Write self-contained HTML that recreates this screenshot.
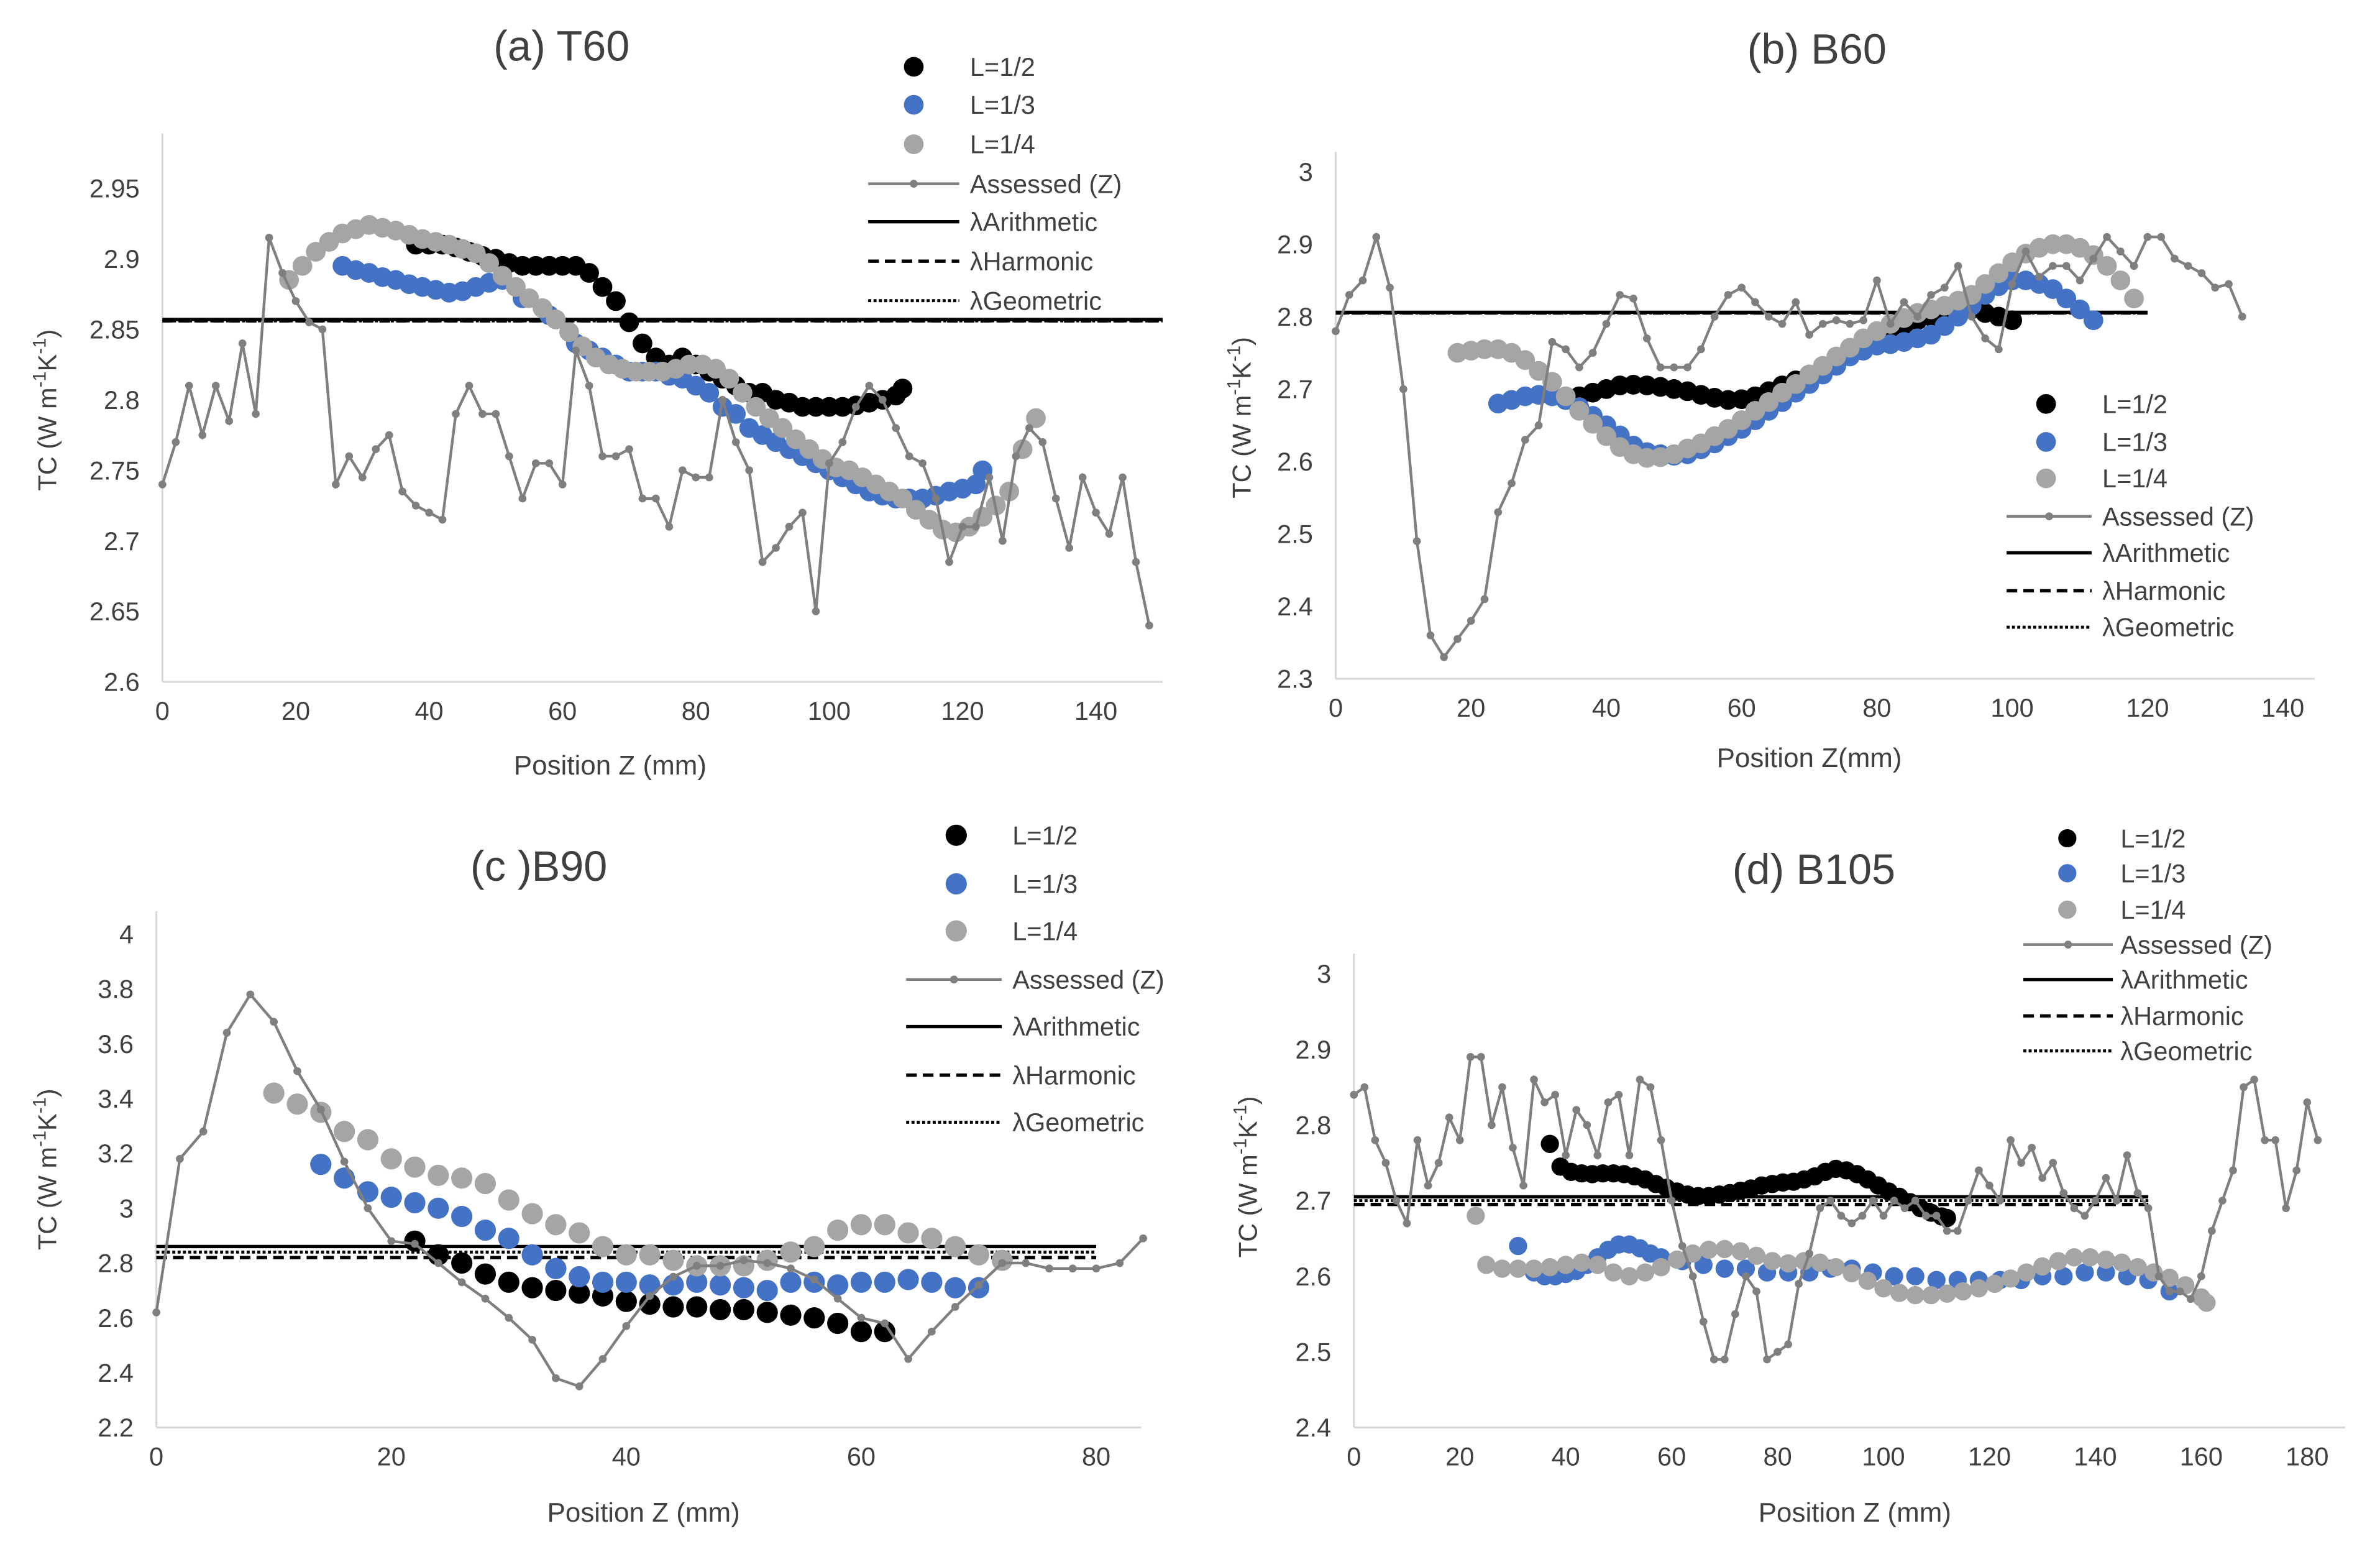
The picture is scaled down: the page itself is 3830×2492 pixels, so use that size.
<!DOCTYPE html>
<html><head><meta charset="utf-8"><style>
html,body{margin:0;padding:0;background:#fff;}
svg{display:block;font-family:"Liberation Sans",sans-serif;}
</style></head><body>
<svg id="chart" width="3830" height="2492" viewBox="0 0 1568 1020" preserveAspectRatio="none" xmlns="http://www.w3.org/2000/svg"></svg>
<script>
// ---------- Panel (a) T60 ----------
const aAssessedX=[0,2,4,6,8,10,12,14,16,18,20,22,24,26,28,30,32,34,36,38,40,42,44,46,48,50,52,54,56,58,60,62,64,66,68,70,72,74,76,78,80,82,84,86,88,90,92,94,96,98,100,102,104,106,108,110,112,114,116,118,120,122,124,126,128,130,132,134,136,138,140,142,144,146,148];
const aAssessedY=[2.74,2.77,2.81,2.775,2.81,2.785,2.84,2.79,2.915,2.89,2.87,2.855,2.85,2.74,2.76,2.745,2.765,2.775,2.735,2.725,2.72,2.715,2.79,2.81,2.79,2.79,2.76,2.73,2.755,2.755,2.74,2.835,2.81,2.76,2.76,2.765,2.73,2.73,2.71,2.75,2.745,2.745,2.8,2.77,2.75,2.685,2.695,2.71,2.72,2.65,2.755,2.77,2.795,2.81,2.8,2.78,2.76,2.755,2.73,2.685,2.71,2.71,2.745,2.7,2.76,2.78,2.77,2.73,2.695,2.745,2.72,2.705,2.745,2.685,2.64];
const aHalfX=[38,40,42,44,46,48,50,52,54,56,58,60,62,64,66,68,70,72,74,76,78,80,82,84,86,88,90,92,94,96,98,100,102,104,106,108,110,111];
const aHalfY=[2.91,2.91,2.91,2.908,2.905,2.902,2.9,2.897,2.895,2.895,2.895,2.895,2.895,2.89,2.88,2.87,2.855,2.84,2.83,2.825,2.83,2.825,2.82,2.815,2.81,2.805,2.805,2.8,2.798,2.795,2.795,2.795,2.795,2.796,2.798,2.8,2.803,2.808];
const aThirdX=[27,29,31,33,35,37,39,41,43,45,47,49,51,54,58,62,64,66,68,70,72,74,76,78,80,82,84,86,88,90,92,94,96,98,100,102,104,106,108,110,112,114,116,118,120,122,123];
const aThirdY=[2.895,2.892,2.89,2.887,2.885,2.882,2.88,2.878,2.876,2.877,2.88,2.883,2.885,2.872,2.86,2.84,2.835,2.83,2.825,2.82,2.82,2.82,2.817,2.815,2.81,2.805,2.795,2.79,2.78,2.775,2.77,2.765,2.76,2.755,2.75,2.745,2.74,2.735,2.732,2.73,2.73,2.73,2.732,2.735,2.737,2.74,2.75];
const aQuarterX=[19,21,23,25,27,29,31,33,35,37,39,41,43,45,47,49,51,53,55,57,59,61,63,65,67,69,71,73,75,77,79,81,83,85,87,89,91,93,95,97,99,101,103,105,107,109,111,113,115,117,119,121,123,125,127,129,131];
const aQuarterY=[2.885,2.895,2.905,2.912,2.918,2.921,2.924,2.922,2.92,2.917,2.914,2.912,2.91,2.907,2.904,2.897,2.888,2.88,2.872,2.865,2.857,2.848,2.838,2.83,2.825,2.822,2.82,2.82,2.82,2.822,2.825,2.825,2.822,2.815,2.805,2.795,2.787,2.78,2.772,2.765,2.758,2.752,2.75,2.745,2.74,2.735,2.73,2.722,2.715,2.708,2.706,2.71,2.717,2.725,2.735,2.765,2.787];
const aLambda=[2.857,2.856,2.856];

// ---------- Panel (b) B60 ----------
const bAssessedX=[0,2,4,6,8,10,12,14,16,18,20,22,24,26,28,30,32,34,36,38,40,42,44,46,48,50,52,54,56,58,60,62,64,66,68,70,72,74,76,78,80,82,84,86,88,90,92,94,96,98,100,102,104,106,108,110,112,114,116,118,120,122,124,126,128,130,132,134];
const bAssessedY=[2.78,2.83,2.85,2.91,2.84,2.7,2.49,2.36,2.33,2.355,2.38,2.41,2.53,2.57,2.63,2.65,2.765,2.755,2.73,2.75,2.79,2.83,2.825,2.77,2.73,2.73,2.73,2.755,2.8,2.83,2.84,2.82,2.8,2.79,2.82,2.775,2.79,2.795,2.79,2.795,2.85,2.79,2.82,2.8,2.83,2.84,2.87,2.8,2.77,2.755,2.845,2.89,2.855,2.87,2.87,2.85,2.88,2.91,2.89,2.87,2.91,2.91,2.88,2.87,2.86,2.84,2.845,2.8,2.65].slice(0,68);
const bHalfX=[34,36,38,40,42,44,46,48,50,52,54,56,58,60,62,64,66,68,70,72,74,76,78,80,82,84,86,88,90,92,94,96,98,100];
const bHalfY=[2.685,2.69,2.695,2.7,2.705,2.706,2.705,2.703,2.7,2.697,2.692,2.688,2.685,2.686,2.69,2.697,2.705,2.712,2.72,2.73,2.74,2.75,2.76,2.77,2.78,2.788,2.795,2.8,2.805,2.808,2.81,2.805,2.8,2.795];
const bThirdX=[24,26,28,30,32,34,36,38,40,42,44,46,48,50,52,54,56,58,60,62,64,66,68,70,72,74,76,78,80,82,84,86,88,90,92,94,96,98,100,102,104,106,108,110,112];
const bThirdY=[2.68,2.685,2.69,2.692,2.69,2.685,2.675,2.663,2.65,2.636,2.622,2.613,2.61,2.608,2.61,2.617,2.625,2.635,2.645,2.657,2.67,2.682,2.695,2.707,2.72,2.732,2.745,2.753,2.76,2.762,2.765,2.77,2.775,2.787,2.8,2.815,2.83,2.842,2.85,2.85,2.845,2.838,2.825,2.81,2.795];
const bQuarterX=[18,20,22,24,26,28,30,32,34,36,38,40,42,44,46,48,50,52,54,56,58,60,62,64,66,68,70,72,74,76,78,80,82,84,86,88,90,92,94,96,98,100,102,104,106,108,110,112,114,116,118];
const bQuarterY=[2.75,2.753,2.755,2.755,2.75,2.74,2.725,2.71,2.69,2.67,2.652,2.635,2.62,2.61,2.605,2.606,2.61,2.618,2.625,2.635,2.645,2.657,2.67,2.682,2.695,2.707,2.72,2.732,2.745,2.757,2.77,2.78,2.79,2.798,2.805,2.81,2.815,2.822,2.83,2.845,2.86,2.875,2.887,2.895,2.9,2.9,2.895,2.885,2.87,2.85,2.825,2.8].slice(0,51);
const bLambda=[2.806,2.805,2.805];

// ---------- Panel (c) B90 ----------
const cAssessedX=[0,2,4,6,8,10,12,14,16,18,20,22,24,26,28,30,32,34,36,38,40,42,44,46,48,50,52,54,56,58,60,62,64,66,68,70,72,74,76,78,80,82,84];
const cAssessedY=[2.62,3.18,3.28,3.64,3.78,3.68,3.5,3.36,3.17,3.0,2.88,2.87,2.8,2.73,2.67,2.6,2.52,2.38,2.35,2.45,2.57,2.68,2.75,2.79,2.79,2.81,2.8,2.78,2.74,2.67,2.6,2.58,2.45,2.55,2.64,2.72,2.8,2.8,2.78,2.78,2.78,2.8,2.89];
const cHalfX=[22,24,26,28,30,32,34,36,38,40,42,44,46,48,50,52,54,56,58,60,62];
const cHalfY=[2.88,2.83,2.8,2.76,2.73,2.71,2.7,2.69,2.68,2.66,2.65,2.64,2.64,2.63,2.63,2.62,2.61,2.6,2.58,2.55,2.55];
const cThirdX=[14,16,18,20,22,24,26,28,30,32,34,36,38,40,42,44,46,48,50,52,54,56,58,60,62,64,66,68,70];
const cThirdY=[3.16,3.11,3.06,3.04,3.02,3.0,2.97,2.92,2.89,2.83,2.78,2.75,2.73,2.73,2.72,2.72,2.73,2.72,2.71,2.7,2.73,2.73,2.72,2.73,2.73,2.74,2.73,2.71,2.71];
const cQuarterX=[10,12,14,16,18,20,22,24,26,28,30,32,34,36,38,40,42,44,46,48,50,52,54,56,58,60,62,64,66,68,70,72];
const cQuarterY=[3.42,3.38,3.35,3.28,3.25,3.18,3.15,3.12,3.11,3.09,3.03,2.98,2.94,2.91,2.86,2.83,2.83,2.81,2.79,2.79,2.79,2.81,2.84,2.86,2.92,2.94,2.94,2.91,2.89,2.86,2.83,2.81];
const cLambda=[2.86,2.82,2.84];

// ---------- Panel (d) B105 ----------
const dAssessedX=[0,2,4,6,8,10,12,14,16,18,20,22,24,26,28,30,32,34,36,38,40,42,44,46,48,50,52,54,56,58,60,62,64,66,68,70,72,74,76,78,80,82,84,86,88,90,92,94,96,98,100,102,104,106,108,110,112,114,116,118,120,122,124,126,128,130,132,134,136,138,140,142,144,146,148,150,152,154,156,158,160,162,164,166,168,170,172,174,176,178,180,182];
const dAssessedY=[2.84,2.85,2.78,2.75,2.7,2.67,2.78,2.72,2.75,2.81,2.78,2.89,2.89,2.8,2.85,2.77,2.72,2.86,2.83,2.84,2.76,2.82,2.8,2.76,2.83,2.84,2.76,2.86,2.85,2.78,2.7,2.64,2.6,2.54,2.49,2.49,2.55,2.6,2.58,2.49,2.5,2.51,2.59,2.63,2.69,2.7,2.68,2.67,2.68,2.7,2.68,2.7,2.69,2.7,2.68,2.68,2.66,2.66,2.7,2.74,2.72,2.7,2.78,2.75,2.77,2.73,2.75,2.71,2.69,2.68,2.7,2.73,2.7,2.76,2.71,2.69,2.6,2.58,2.58,2.57,2.6,2.66,2.7,2.74,2.85,2.86,2.78,2.78,2.69,2.74,2.83,2.78];
const dHalfX=[37,39,41,43,45,47,49,51,53,55,57,59,61,63,65,67,69,71,73,75,77,79,81,83,85,87,89,91,93,95,97,99,101,103,105,107,109,111,112];
const dHalfY=[2.775,2.745,2.738,2.736,2.735,2.736,2.736,2.735,2.732,2.728,2.722,2.717,2.712,2.708,2.706,2.706,2.708,2.71,2.713,2.716,2.72,2.722,2.724,2.725,2.728,2.732,2.738,2.742,2.74,2.735,2.728,2.72,2.712,2.705,2.698,2.69,2.684,2.679,2.677];
const dThirdX=[31,34,36,38,40,42,44,46,48,50,52,54,56,58,62,66,70,74,78,82,86,90,94,98,102,106,110,114,118,122,126,130,134,138,142,146,150,154];
const dThirdY=[2.64,2.605,2.6,2.6,2.603,2.607,2.615,2.625,2.635,2.642,2.642,2.637,2.63,2.625,2.62,2.615,2.61,2.61,2.605,2.605,2.605,2.61,2.61,2.605,2.6,2.6,2.595,2.595,2.595,2.595,2.595,2.6,2.6,2.605,2.605,2.6,2.595,2.58];
const dQuarterX=[23,25,28,31,34,37,40,43,46,49,52,55,58,61,64,67,70,73,76,79,82,85,88,91,94,97,100,103,106,109,112,115,118,121,124,127,130,133,136,139,142,145,148,151,154,157,160,161];
const dQuarterY=[2.68,2.615,2.61,2.61,2.61,2.612,2.615,2.618,2.615,2.605,2.6,2.605,2.612,2.622,2.63,2.635,2.636,2.633,2.627,2.62,2.617,2.62,2.618,2.612,2.604,2.594,2.584,2.578,2.575,2.575,2.577,2.58,2.584,2.59,2.597,2.605,2.613,2.62,2.625,2.625,2.622,2.618,2.612,2.605,2.598,2.588,2.572,2.565];
const dLambda=[2.705,2.695,2.7];

// ---------- drawing ----------
const NS="http://www.w3.org/2000/svg";
const svg=document.getElementById('chart');
function mk(tag,attrs,parent,text){const e=document.createElementNS(NS,tag);for(const k in attrs)e.setAttribute(k,attrs[k]);if(text!==undefined)e.textContent=text;(parent||svg).appendChild(e);return e;}

const panels=[
 {id:'a',title:'(a) T60',tx:370,ty:40,x0:107,x1:766,xmin:0,xmax:150,xstep:20,xtickMax:140,y0:449,yTop:88,ymin:2.6,ymax:2.95,ystepPx:46.43,ystep:0.05,ydec:2,ytickMax:2.95,
  ass:[aAssessedX,aAssessedY],half:[aHalfX,aHalfY],third:[aThirdX,aThirdY],quarter:[aQuarterX,aQuarterY],lam:aLambda,lamX:[0,150],r:6.5,
  xtitle:'Position Z (mm)',xtx:402,xty:510,ytx:37,yty:270,
  leg:{dotX:602,lx0:572,lx1:632,tx:639,ys:[44,69,95,121,146,172,198]}},
 {id:'b',title:'(b) B60',tx:1197,ty:42,x0:880,x1:1525,xmin:0,xmax:145,xstep:20,xtickMax:140,y0:447,yTop:100,ymin:2.3,ymax:3.0,ystep:0.1,ydec:1,ytickMax:3,
  ass:[bAssessedX,bAssessedY],half:[bHalfX,bHalfY],third:[bThirdX,bThirdY],quarter:[bQuarterX,bQuarterY],lam:bLambda,lamX:[0,120],r:6.5,
  xtitle:'Position Z(mm)',xtx:1192,xty:505,ytx:824,yty:275,xscale:4.457,yscale:477,
  leg:{dotX:1348,lx0:1322,lx1:1378,tx:1385,ys:[266,291,315,340,364,389,413]}},
 {id:'c',title:'(c )B90',tx:355,ty:580,x0:103,x1:752,xmin:0,xmax:84,xstep:20,xtickMax:80,y0:940,yTop:600,ymin:2.2,ymax:4.0,ystep:0.2,ydec:1,ytickMax:4,
  ass:[cAssessedX,cAssessedY],half:[cHalfX,cHalfY],third:[cThirdX,cThirdY],quarter:[cQuarterX,cQuarterY],lam:cLambda,lamX:[0,80],r:7,
  xtitle:'Position Z (mm)',xtx:424,xty:1002,ytx:37,yty:770,xscale:7.74,yscale:180.5,
  leg:{dotX:630,lx0:597,lx1:660,tx:667,ys:[550,582,613,645,676,708,739]}},
 {id:'d',title:'(d) B105',tx:1195,ty:582,x0:892,x1:1545,xmin:0,xmax:187,xstep:20,xtickMax:180,y0:940,yTop:628,ymin:2.4,ymax:3.0,ystep:0.1,ydec:1,ytickMax:3,
  ass:[dAssessedX,dAssessedY],half:[dHalfX,dHalfY],third:[dThirdX,dThirdY],quarter:[dQuarterX,dQuarterY],lam:dLambda,lamX:[0,150],r:6,
  xtitle:'Position Z (mm)',xtx:1222,xty:1002,ytx:828,yty:775,xscale:3.489,yscale:498,
  leg:{dotX:1362,lx0:1333,lx1:1392,tx:1397,ys:[552,575,599,622,645,669,692]}}
];
panels[0].xscale=4.393; panels[0].yscale=928.6;

const BLUE='#4472C4',GRAY='#A5A5A5',LINE='#7F7F7F';

panels.forEach(p=>{
  const g=mk('g',{});
  
  
  const X=v=>p.x0+(v-p.xmin)*p.xscale;
  const Y=v=>p.y0-(v-p.ymin)*p.yscale;
  // axes
  const ya=mk('line',{x1:p.x0,y1:p.yTop,x2:p.x0,y2:p.y0,stroke:'#D9D9D9','stroke-width':1.3},g);
  
  
  const xa=mk('line',{x1:p.x0,y1:p.y0,x2:p.x1,y2:p.y0,stroke:'#D9D9D9','stroke-width':1.3},g);
  
  
  for(let v=p.xmin;v<=p.xtickMax+1e-9;v+=p.xstep){
    const t=mk('text',{x:X(v),y:p.y0+25,'font-size':17,'text-anchor':'middle',fill:'#404040'},g,String(v));
    
    
  }
  for(let v=p.ymin;v<=p.ytickMax+1e-9;v+=p.ystep){
    let s=(+v.toFixed(p.ydec)).toString();
    const t=mk('text',{x:p.x0-15,y:Y(v)+6,'font-size':17,'text-anchor':'end',fill:'#404040'},g,s);
    
    
  }
  // titles
  const tt=mk('text',{x:p.tx,y:p.ty,'font-size':28,'text-anchor':'middle',fill:'#404040'},g,p.title);
  
  
  const xt=mk('text',{x:p.xtx,y:p.xty,'font-size':18,'text-anchor':'middle',fill:'#404040'},g,p.xtitle);
  
  
  const yt=mk('text',{x:p.ytx,y:p.yty,'font-size':17,'text-anchor':'middle',fill:'#404040',transform:`rotate(-90 ${p.ytx} ${p.yty})`},g);
  
  
  yt.innerHTML='TC (W m<tspan dy="-7" font-size="12">-1</tspan><tspan dy="7">K</tspan><tspan dy="-7" font-size="12">-1</tspan><tspan dy="7">)</tspan>';
  // lambda lines
  const styles=[{d:'none',w:2.2},{d:'7 4',w:2.2},{d:'2 1.5',w:2}];
  const lnames=['lambda-arithmetic-line','lambda-harmonic-line','lambda-geometric-line'];
  p.lam.forEach((v,i)=>{
    const l=mk('line',{x1:X(p.lamX[0]),x2:X(p.lamX[1]),y1:Y(v),y2:Y(v),stroke:'#000','stroke-width':styles[i].w,'stroke-dasharray':styles[i].d},g);
    
    
  });
  // series dots
  const dotSeries=[[p.half,'#000','series-l-half'],[p.third,BLUE,'series-l-third'],[p.quarter,GRAY,'series-l-quarter']];
  dotSeries.forEach(([s,c,n])=>{
    const sg=mk('g',{fill:c},g);
    
    
    s[0].forEach((x,i)=>{
      const d=mk('circle',{cx:X(x),cy:Y(s[1][i]),r:p.r},sg);
      
      
    });
  });
  // assessed
  const pts=p.ass[0].map((x,i)=>X(x)+','+Y(p.ass[1][i])).join(' ');
  const pl=mk('polyline',{points:pts,fill:'none',stroke:LINE,'stroke-width':1.8},g);
  
  
  p.ass[0].forEach((x,i)=>{
    const d=mk('circle',{cx:X(x),cy:Y(p.ass[1][i]),r:2.6,fill:LINE},g);
    
    
  });
  // legend
  const L=p.leg;
  const lg=mk('g',{},g);
  
  
  const labels=['L=1/2','L=1/3','L=1/4','Assessed (Z)','λArithmetic','λHarmonic','λGeometric'];
  const cols=['#000',BLUE,GRAY];
  labels.forEach((lab,i)=>{
    const y=L.ys[i];
    if(i<3){
      const c=mk('circle',{cx:L.dotX,cy:y,r:p.r,fill:cols[i]},lg);
      
      
    } else if(i===3){
      mk('line',{x1:L.lx0,x2:L.lx1,y1:y,y2:y,stroke:LINE,'stroke-width':1.8},lg);
      mk('circle',{cx:(L.lx0+L.lx1)/2,cy:y,r:2.6,fill:LINE},lg);
    } else {
      const st=styles[i-4];
      const l=mk('line',{x1:L.lx0,x2:L.lx1,y1:y,y2:y,stroke:'#000','stroke-width':st.w,'stroke-dasharray':st.d},lg);
      
      
    }
    const t=mk('text',{x:L.tx,y:y+6,'font-size':17,fill:'#404040'},lg,lab);
    
    
  });
});
</script>
</body></html>
